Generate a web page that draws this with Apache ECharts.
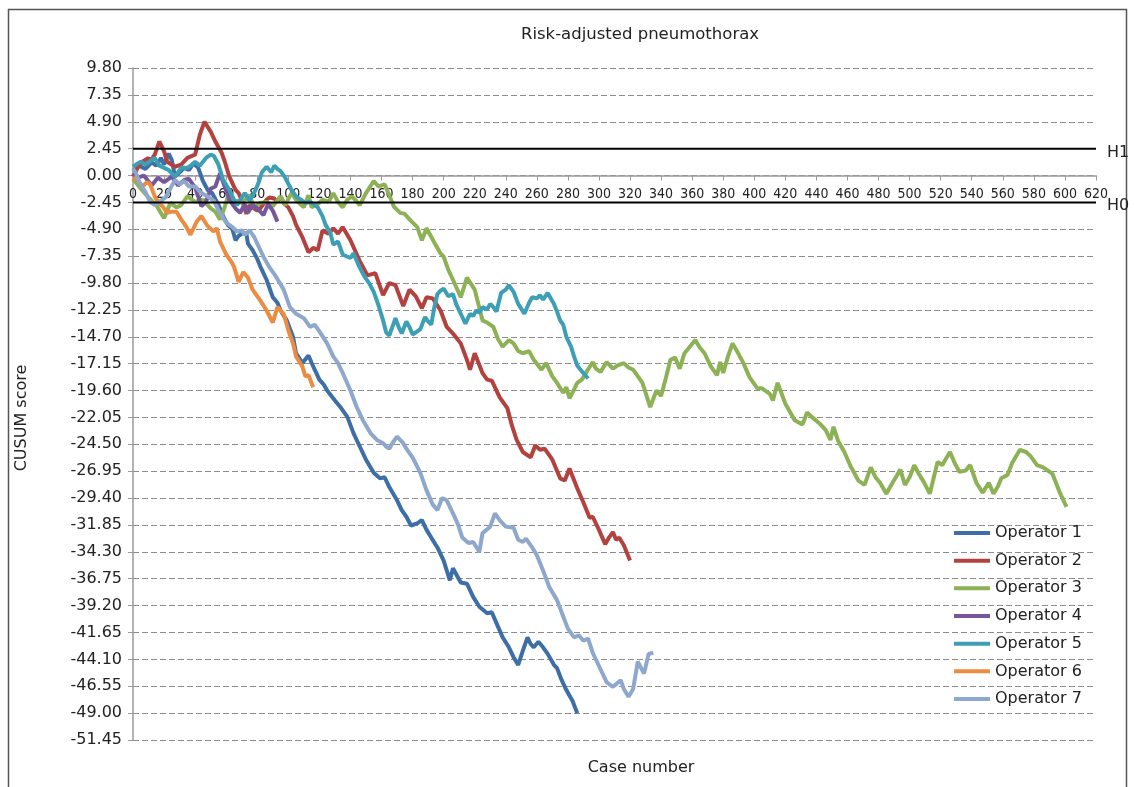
<!DOCTYPE html>
<html>
<head>
<meta charset="utf-8">
<title>Risk-adjusted pneumothorax</title>
<script src="https://cdn.jsdelivr.net/npm/echarts@6/dist/echarts.min.js"></script>
<style>
  html, body { margin: 0; padding: 0; background: #fff; }
  #chart { width: 1134px; height: 787px; }
</style>
</head>
<body>
<div id="chart"></div>
<script>
// axis setup (CUSUM score ticks every 2.45, case number every 20)
const yMin = -51.45;
const yMax = 9.80;
const yStep = 2.45;
const caseMax = 620;
const caseStep = 20;

// decision limits
const h1Level = 2.45;
const h0Level = -2.45;

// [case number, CUSUM score]
const op1 = [[0,0.4],[4,0.9],[8,0.6],[12,1.2],[15,0.9],[18,1.6],[20,1.0],[23,2.0],[25,1.4],[27,-0.1],[30,0.3],[33,0.7],[36,0.5],[39,1.1],[42,0.7],[45,-0.5],[48,-1.3],[51,-1.6],[54,-2.4],[56,-3.0],[58,-3.7],[61,-4.5],[64,-4.9],[66,-5.9],[68,-5.5],[71,-5.2],[73,-5.3],[74,-6.2],[77,-6.8],[80,-7.6],[82,-8.3],[86,-9.5],[90,-11.1],[93,-11.6],[95,-12.3],[99,-13.2],[103,-14.7],[105,-16.2],[109,-17.1],[113,-16.4],[116,-17.4],[120,-18.6],[123,-19.1],[125,-19.6],[130,-20.5],[134,-21.2],[138,-22.0],[142,-23.5],[146,-24.7],[150,-25.9],[155,-27.1],[159,-27.6],[162,-27.5],[165,-28.4],[170,-29.6],[173,-30.5],[176,-31.1],[179,-31.9],[183,-31.7],[186,-31.4],[189,-32.3],[192,-33.0],[196,-33.9],[200,-35.1],[204,-36.9],[206,-35.8],[211,-37.1],[215,-37.2],[219,-38.4],[223,-39.3],[228,-39.9],[231,-39.8],[234,-40.8],[238,-42.1],[242,-43.0],[245,-43.9],[248,-44.6],[251,-43.3],[254,-42.1],[256,-42.7],[258,-43.0],[261,-42.5],[264,-43.0],[267,-43.6],[271,-44.6],[273,-44.9],[276,-46.0],[279,-46.9],[283,-47.9],[286,-49.0]];

const op2 = [[0,-0.1],[3,0.7],[6,1.25],[10,1.6],[11,1.25],[14,1.9],[17,3.1],[20,2.2],[22,1.25],[27,0.8],[31,1.0],[35,1.6],[40,1.9],[43,3.7],[46,4.9],[50,4.0],[53,3.1],[57,2.1],[59,1.3],[62,-0.1],[66,-1.3],[68,-1.6],[71,-2.6],[73,-3.5],[75,-2.7],[77,-2.9],[80,-3.2],[82,-3.0],[86,-2.2],[88,-2.0],[91,-2.1],[93,-2.4],[95,-1.9],[97,-2.5],[100,-2.9],[103,-3.7],[105,-4.5],[109,-5.6],[113,-7.0],[116,-6.6],[119,-6.8],[122,-5.0],[126,-5.3],[129,-4.8],[132,-5.3],[135,-4.7],[140,-5.9],[146,-7.8],[151,-9.1],[156,-8.9],[161,-10.9],[165,-9.8],[169,-10.0],[174,-11.9],[178,-10.4],[182,-11.0],[186,-12.1],[189,-11.1],[193,-11.2],[198,-12.3],[202,-13.8],[206,-14.4],[211,-15.3],[215,-16.8],[217,-17.7],[220,-16.2],[225,-18.0],[228,-18.6],[231,-18.7],[236,-20.2],[241,-21.2],[244,-22.8],[247,-24.1],[251,-25.2],[256,-25.7],[259,-24.6],[262,-25.0],[265,-24.9],[270,-25.9],[275,-27.6],[278,-27.8],[281,-26.7],[286,-28.5],[290,-29.8],[294,-31.2],[296,-31.1],[300,-32.3],[304,-33.6],[306,-33.1],[309,-32.5],[311,-33.2],[313,-33.0],[316,-33.7],[320,-35.1]];

const op3 = [[0,-0.3],[5,-1.2],[10,-2.0],[15,-2.7],[20,-3.9],[24,-2.5],[28,-2.9],[31,-2.7],[35,-1.9],[40,-2.4],[45,-2.2],[50,-3.0],[53,-3.3],[56,-4.0],[59,-2.9],[62,-1.5],[64,-2.6],[67,-2.3],[70,-2.5],[75,-1.8],[78,-2.9],[82,-2.5],[86,-2.4],[90,-2.8],[95,-1.9],[98,-2.7],[102,-1.6],[106,-2.4],[110,-2.9],[113,-1.8],[115,-2.9],[119,-2.6],[122,-2.2],[126,-2.4],[129,-1.6],[132,-2.4],[135,-2.9],[138,-2.2],[141,-1.9],[146,-2.7],[150,-1.6],[155,-0.5],[158,-1.0],[162,-0.8],[165,-1.8],[168,-2.85],[172,-3.4],[175,-3.5],[178,-4.0],[183,-4.7],[186,-5.9],[189,-4.8],[194,-6.1],[198,-7.1],[200,-7.4],[203,-8.6],[206,-9.5],[211,-11.1],[215,-9.3],[220,-10.4],[225,-13.2],[228,-13.4],[232,-13.8],[235,-14.9],[238,-15.6],[242,-15.0],[245,-15.3],[248,-16.0],[251,-16.2],[255,-16.0],[258,-16.8],[263,-17.7],[266,-17.1],[270,-18.3],[273,-18.9],[277,-19.8],[279,-19.3],[281,-20.3],[284,-19.5],[286,-18.9],[289,-18.6],[292,-17.9],[296,-17.0],[298,-17.6],[301,-17.9],[305,-17.0],[309,-17.6],[312,-17.3],[316,-17.1],[319,-17.5],[322,-17.7],[328,-18.9],[333,-21.1],[337,-19.6],[340,-20.1],[343,-18.5],[346,-16.8],[349,-16.6],[352,-17.6],[355,-16.2],[358,-15.7],[362,-15.0],[365,-15.7],[368,-16.2],[372,-17.4],[376,-18.2],[378,-17.0],[380,-18.0],[383,-16.5],[386,-15.3],[390,-16.3],[393,-17.1],[397,-18.4],[402,-19.4],[405,-19.4],[407,-19.6],[410,-19.9],[412,-20.5],[415,-18.9],[420,-20.8],[426,-22.3],[431,-22.7],[434,-21.6],[437,-22.0],[442,-22.6],[446,-23.2],[449,-24.1],[451,-22.9],[454,-24.2],[458,-25.2],[462,-26.5],[467,-27.8],[471,-28.2],[475,-26.6],[478,-27.5],[481,-28.0],[485,-29.0],[489,-28.0],[492,-27.3],[494,-26.8],[497,-28.2],[500,-27.5],[503,-26.4],[506,-27.2],[509,-27.9],[513,-29.0],[518,-26.1],[521,-26.4],[523,-25.9],[526,-25.2],[529,-26.2],[532,-27.0],[536,-26.9],[539,-26.4],[543,-28.0],[547,-28.9],[551,-28.0],[554,-29.0],[557,-28.3],[559,-27.6],[563,-27.3],[566,-26.2],[571,-25.0],[575,-25.2],[578,-25.6],[582,-26.4],[586,-26.6],[589,-26.9],[592,-27.2],[597,-29.0],[601,-30.2]];

const op4 = [[0,0.2],[3,-0.2],[7,0.0],[12,-0.9],[16,-0.2],[20,-0.6],[25,-0.1],[29,-0.9],[33,-0.4],[36,-0.3],[40,-1.1],[44,-2.8],[47,-2.4],[50,-1.2],[53,-1.0],[56,0.2],[58,-0.6],[62,-2.2],[66,-3.0],[69,-3.4],[72,-2.6],[74,-3.4],[77,-2.7],[80,-3.0],[84,-3.6],[87,-2.6],[90,-3.2],[93,-4.2]];

const op5 = [[0,0.8],[2,1.0],[5,1.25],[8,1.0],[11,1.3],[14,1.6],[17,0.9],[20,0.7],[23,0.5],[27,-0.1],[31,0.7],[35,0.7],[38,1.0],[40,1.25],[43,0.9],[47,1.6],[50,1.9],[52,1.8],[55,1.0],[58,-0.4],[62,-1.3],[65,-2.2],[67,-2.7],[70,-2.0],[72,-1.6],[75,-2.3],[78,-1.6],[81,-0.6],[83,0.3],[86,0.8],[89,0.3],[91,0.9],[93,0.6],[95,0.4],[98,-0.2],[102,-1.3],[105,-1.9],[108,-2.2],[111,-2.5],[114,-2.4],[117,-2.7],[119,-2.9],[122,-3.7],[124,-4.5],[127,-5.2],[129,-6.3],[132,-6.0],[135,-7.2],[138,-7.4],[140,-7.5],[142,-7.1],[146,-8.4],[149,-9.2],[152,-9.8],[155,-10.6],[158,-11.8],[161,-13.2],[163,-14.3],[165,-14.6],[167,-13.8],[169,-13.0],[171,-13.8],[173,-14.4],[176,-13.3],[178,-13.8],[180,-14.5],[183,-14.2],[185,-14.0],[188,-12.9],[190,-13.3],[192,-13.6],[194,-12.0],[196,-10.8],[198,-10.5],[200,-10.3],[203,-11.0],[206,-10.8],[208,-11.7],[211,-12.6],[214,-13.5],[217,-12.6],[219,-12.8],[221,-12.3],[223,-12.5],[225,-12.0],[228,-12.2],[230,-11.7],[232,-12.0],[234,-12.4],[237,-10.7],[240,-10.4],[242,-10.0],[245,-10.6],[248,-11.7],[252,-12.6],[255,-11.6],[257,-11.1],[260,-11.2],[262,-10.9],[264,-11.3],[267,-10.7],[271,-11.7],[273,-12.4],[275,-13.2],[277,-13.6],[279,-14.7],[282,-15.6],[284,-16.5],[286,-17.3],[288,-17.7],[290,-18.0],[293,-18.5]];

const op6 = [[0,-0.2],[3,-0.4],[6,-1.0],[9,-0.6],[11,-0.8],[14,-1.9],[17,-2.6],[19,-2.8],[22,-3.4],[24,-3.3],[28,-3.3],[31,-4.0],[34,-4.6],[37,-5.4],[41,-4.2],[44,-3.7],[48,-4.6],[52,-5.1],[54,-4.8],[56,-6.0],[60,-7.2],[63,-7.8],[65,-8.3],[68,-9.7],[71,-8.8],[74,-9.3],[77,-10.4],[82,-11.4],[86,-12.3],[90,-13.4],[93,-12.0],[97,-12.6],[100,-14.1],[103,-15.3],[105,-16.5],[109,-17.4],[111,-18.3],[113,-18.2],[116,-19.3]];

const op7 = [[0,0.6],[2,0.2],[4,-0.6],[8,-1.5],[11,-2.4],[14,-2.7],[18,-2.3],[21,-2.0],[24,-1.2],[27,-0.4],[30,-0.8],[33,-0.5],[36,-1.0],[40,-1.0],[44,-1.6],[48,-1.9],[52,-2.3],[56,-3.4],[60,-4.3],[64,-4.7],[67,-5.1],[70,-5.0],[72,-5.4],[75,-5.0],[78,-5.6],[80,-6.2],[84,-7.4],[88,-8.4],[92,-9.2],[97,-10.4],[101,-12.0],[105,-12.6],[110,-13.0],[114,-13.8],[117,-13.6],[120,-14.2],[125,-15.3],[129,-16.5],[132,-17.1],[135,-18.0],[140,-19.6],[144,-21.1],[148,-22.3],[153,-23.5],[157,-24.1],[161,-24.4],[163,-24.7],[165,-24.9],[167,-24.4],[170,-23.8],[174,-24.4],[176,-24.9],[180,-25.7],[185,-27.1],[189,-28.7],[193,-30.0],[196,-30.5],[199,-29.4],[202,-29.6],[205,-30.5],[209,-31.7],[212,-33.0],[216,-33.5],[219,-33.4],[223,-34.3],[225,-32.6],[230,-32.0],[233,-30.8],[236,-31.4],[240,-32.0],[245,-32.1],[248,-33.2],[251,-33.4],[253,-33.1],[257,-33.9],[260,-34.6],[264,-36.0],[268,-37.5],[273,-38.7],[277,-40.2],[280,-41.3],[284,-42.1],[287,-41.9],[290,-42.4],[293,-42.2],[296,-43.5],[301,-45.0],[305,-46.2],[309,-46.6],[314,-46.0],[316,-46.8],[319,-47.5],[322,-46.8],[325,-44.3],[329,-45.4],[332,-43.6],[335,-43.5]];

const operatorNames = ['Operator 1', 'Operator 2', 'Operator 3', 'Operator 4', 'Operator 5', 'Operator 6', 'Operator 7'];
const operatorData = [op1, op2, op3, op4, op5, op6, op7];
const operatorColors = ['#3d6ea6', '#b3423f', '#8db155', '#74579c', '#3d9fb6', '#ec8b42', '#8ea8cd'];

const chart = echarts.init(document.getElementById('chart'));

const lineSeries = operatorNames.map((name, i) => ({
    name: name,
    type: 'line',
    data: operatorData[i],
    symbol: 'none',
    lineStyle: { width: 4, color: operatorColors[i] },
    itemStyle: { color: operatorColors[i] }
}));

function limitLine(name, level, offsetY) {
    return {
        name: name,
        type: 'line',
        data: [[0, level], [caseMax, level]],
        symbol: 'none',
        silent: true,
        z: 5,
        lineStyle: { width: 2, color: '#000' },
        itemStyle: { color: '#000' },
        endLabel: {
            show: true,
            formatter: name,
            distance: 11,
            offset: [0, offsetY],
            color: '#222',
            fontSize: 16,
            fontFamily: 'DejaVu Sans'
        }
    };
}

const option = {
    animation: false,
    textStyle: { fontFamily: 'DejaVu Sans' },
    grid: { left: 133, right: 38, top: 68, bottom: 47 },
    legend: {
        data: operatorNames,
        orient: 'vertical',
        left: 954,
        top: 524,
        padding: 0,
        icon: 'rect',
        itemWidth: 36,
        itemHeight: 4,
        itemGap: 9.67,
        textStyle: { fontSize: 16, color: '#222', lineHeight: 18, fontFamily: 'DejaVu Sans' }
    },
    xAxis: {
        type: 'value',
        min: 0,
        max: caseMax,
        interval: caseStep,
        position: 'bottom',
        axisLine: { onZero: false, lineStyle: { color: '#9a9a9a', width: 1.5 } },
        axisTick: { show: true, length: 5, lineStyle: { color: '#9a9a9a' } },
        axisLabel: {
            margin: 12,
            fontSize: 14,
            color: '#222',
            fontFamily: 'DejaVu Sans Condensed'
        },
        splitLine: { show: false }
    },
    yAxis: {
        type: 'value',
        min: yMin,
        max: yMax,
        interval: yStep,
        axisLine: { show: true, onZero: false, lineStyle: { color: '#9a9a9a', width: 1.5 } },
        axisTick: { show: true, length: 5, lineStyle: { color: '#9a9a9a' } },
        axisLabel: {
            margin: 11,
            fontSize: 16,
            color: '#222',
            formatter: v => (Math.abs(v) < 1e-9 ? 0 : v).toFixed(2)
        },
        splitLine: { lineStyle: { type: [6, 3], color: '#8c8c8c', width: 1 } }
    },
    graphic: [
        {
            type: 'rect',
            silent: true,
            shape: { x: 8.5, y: 9.5, width: 1118, height: 800 },
            style: { fill: 'none', stroke: '#555', lineWidth: 1.5 }
        },
        {
            type: 'text',
            silent: true,
            x: 640,
            y: 35,
            style: {
                text: 'Risk-adjusted pneumothorax',
                font: '16.5px "DejaVu Sans"',
                fill: '#222',
                align: 'center', verticalAlign: 'middle',
                textAlign: 'center', textVerticalAlign: 'middle'
            }
        },
        {
            type: 'text',
            silent: true,
            x: 641,
            y: 768,
            style: {
                text: 'Case number',
                font: '16px "DejaVu Sans"',
                fill: '#222',
                align: 'center', verticalAlign: 'middle',
                textAlign: 'center', textVerticalAlign: 'middle'
            }
        },
        {
            type: 'text',
            silent: true,
            x: 22,
            y: 418,
            rotation: Math.PI / 2,
            style: {
                text: 'CUSUM score',
                font: '16px "DejaVu Sans"',
                fill: '#222',
                align: 'center', verticalAlign: 'middle',
                textAlign: 'center', textVerticalAlign: 'middle'
            }
        }
    ],
    series: lineSeries.concat([
        limitLine('H1', h1Level, 4),
        limitLine('H0', h0Level, 3)
    ])
};

chart.setOption(option);

// the case-number axis crosses the score axis at 0: shift it up from the bottom edge
const zeroPx = chart.convertToPixel({ yAxisIndex: 0 }, 0);
const bottomPx = chart.convertToPixel({ yAxisIndex: 0 }, yMin);
chart.setOption({ xAxis: { offset: zeroPx - bottomPx } });
</script>
</body>
</html>
